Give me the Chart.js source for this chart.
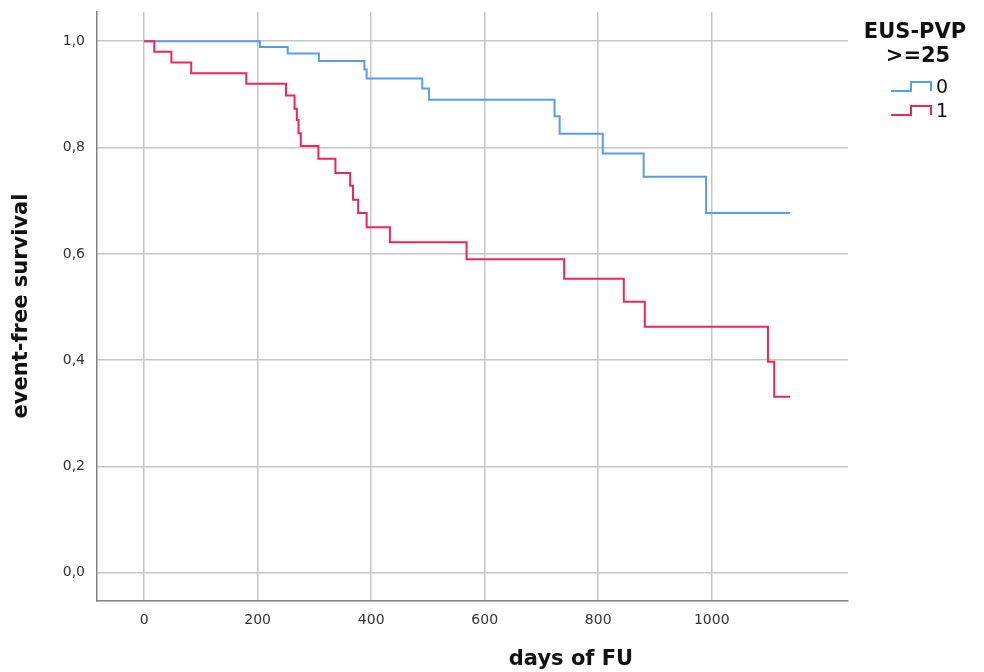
<!DOCTYPE html>
<html>
<head>
<meta charset="utf-8">
<script src="https://cdn.jsdelivr.net/npm/chart.js@4"></script>
<style>
  body { margin: 0; background: #fff; }
  canvas { display: block; }
</style>
</head>
<body>
<canvas id="kmChart" width="984" height="672"></canvas>
<script>
// Kaplan-Meier steps (days, survival)
var group0Days = [0, 204, 253, 308, 388, 392, 490, 502, 723, 732, 808, 880, 990, 1138];
var group0Surv = [1.0, 0.989, 0.977, 0.963, 0.947, 0.930, 0.911, 0.890, 0.859, 0.826, 0.789, 0.745, 0.677, 0.677];

var group1Days = [0, 18, 48, 83, 180, 250, 265, 269, 272, 276, 307, 337, 363, 368, 377, 392, 433, 568, 740, 845, 882, 1099, 1110, 1138];
var group1Surv = [1.0, 0.980, 0.960, 0.940, 0.920, 0.898, 0.873, 0.852, 0.827, 0.803, 0.779, 0.752, 0.728, 0.702, 0.677, 0.650, 0.622, 0.590, 0.553, 0.510, 0.463, 0.397, 0.331, 0.331];

var xTicks = [0, 200, 400, 600, 800, 1000];
var yTicks = [0, 0.2, 0.4, 0.6, 0.8, 1.0];
var legendLabels = ['0', '1'];

var blue = 'rgb(84, 158, 236)';
var red = 'rgb(236, 38, 90)';

function toPoints(days, surv) {
    return days.map(function (d, i) { return { x: d, y: surv[i] }; });
}

// Titles and legend drawn on top of the chart
var textPlugin = {
    id: 'kmText',
    afterDraw: function (chart) {
        var ctx = chart.ctx;
        ctx.save();
        ctx.fillStyle = '#111';
        ctx.font = 'bold 21px "DejaVu Sans"';
        ctx.textAlign = 'center';
        ctx.textBaseline = 'middle';
        ctx.fillText('days of FU', 571, 660);

        ctx.save();
        ctx.translate(22, 306);
        ctx.rotate(-Math.PI / 2);
        ctx.fillText('event-free survival', 0, 0);
        ctx.restore();

        // legend
        ctx.fillText('EUS-PVP', 915, 33);
        ctx.fillText('>=25', 918, 57);

        var colors = [blue, red];
        var ys = [91, 115];
        ctx.lineWidth = 2;
        ctx.font = '19px "DejaVu Sans"';
        ctx.textAlign = 'left';
        for (var i = 0; i < legendLabels.length; i++) {
            var y = ys[i];
            ctx.strokeStyle = colors[i];
            ctx.beginPath();
            ctx.moveTo(891, y);
            ctx.lineTo(911, y);
            ctx.lineTo(911, y - 9);
            ctx.lineTo(931, y - 9);
            ctx.lineTo(931, y);
            ctx.stroke();
            ctx.fillStyle = '#111';
            ctx.fillText(legendLabels[i], 936, y - 3);
        }
        ctx.restore();
    }
};

var ctxKm = document.getElementById('kmChart').getContext('2d');
var kmChart = new Chart(ctxKm, {
    type: 'line',
    data: {
        datasets: [{
            label: legendLabels[0],
            data: toPoints(group0Days, group0Surv),
            borderColor: blue,
            borderWidth: 2,
            stepped: true,
            pointRadius: 0,
            fill: false,
            order: 1
        }, {
            label: legendLabels[1],
            data: toPoints(group1Days, group1Surv),
            borderColor: red,
            borderWidth: 2,
            stepped: true,
            pointRadius: 0,
            fill: false,
            order: 0
        }]
    },
    options: {
        responsive: false,
        animation: false,
        layout: { padding: { left: 0, top: 12, right: 136, bottom: 0 } },
        plugins: {
            legend: { display: false },
            tooltip: { enabled: false }
        },
        scales: {
            x: {
                type: 'linear',
                min: -83,
                max: 1240,
                afterBuildTicks: function (scale) {
                    scale.ticks = xTicks.map(function (v) { return { value: v }; });
                },
                afterFit: function (scale) {
                    scale.height = 71;
                    scale.paddingLeft = 0;
                    scale.paddingRight = 0;
                },
                grid: { color: '#c6c6c6', lineWidth: 1.5, drawTicks: false },
                border: { display: true, color: '#808080', width: 1.5 },
                ticks: {
                    padding: 11,
                    color: '#333',
                    font: { family: 'DejaVu Sans', size: 14 },
                    maxRotation: 0,
                    callback: function (v) { return String(v); }
                }
            },
            y: {
                min: -0.053,
                max: 1.055,
                afterBuildTicks: function (scale) {
                    scale.ticks = yTicks.map(function (v) { return { value: v }; });
                },
                afterFit: function (scale) {
                    scale.width = 97;
                    scale.paddingTop = 0;
                    scale.paddingBottom = 0;
                },
                grid: { color: '#c6c6c6', lineWidth: 1.5, drawTicks: false },
                border: { display: true, color: '#808080', width: 1.5 },
                ticks: {
                    padding: 12,
                    color: '#333',
                    font: { family: 'DejaVu Sans', size: 14 },
                    callback: function (v) { return v.toFixed(1).replace('.', ','); }
                }
            }
        }
    },
    plugins: [textPlugin]
});
</script>
</body>
</html>
